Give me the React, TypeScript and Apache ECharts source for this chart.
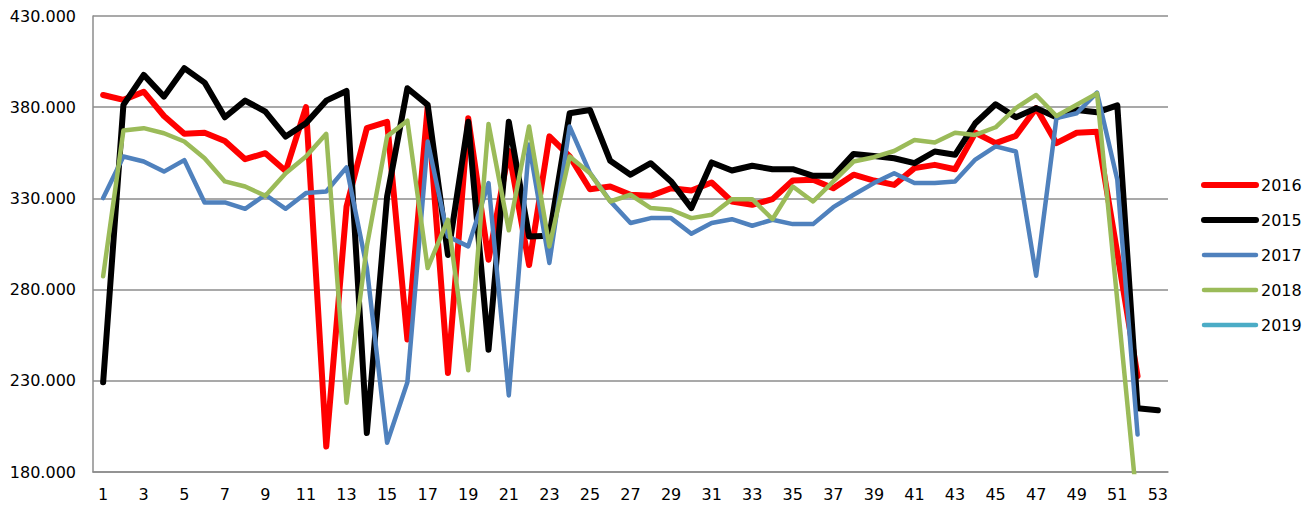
import React, { useEffect, useRef } from "react";
import * as echarts from "echarts";

const weeks: string[] = Array.from({ length: 53 }, (_, i) => String(i + 1));

const s2016: (number | null)[] = [
  386.7, 384, 388.5, 375.2, 365.4, 366, 361.5, 351.5, 354.8, 345,
  380, 194, 325.6, 368.5, 372, 252.6, 380.3, 234.3, 374, 296.4,
  356, 293.5, 364, 353, 335, 336.5, 332, 331.4, 335.6, 334.3,
  338.7, 328.3, 326.5, 329.6, 339.8, 340.2, 335.6, 343, 339.8, 337.4,
  346.6, 348.4, 346, 366, 360.3, 364.3, 379.5, 360.3, 366, 366.6,
  300, 232.5, null,
];

const s2015: (number | null)[] = [
  229.2, 381.3, 397.7, 385.8, 401.4, 393.5, 374.5, 383.6, 377.6, 363.9,
  371.2, 383.6, 388.9, 201.4, 331, 390.4, 381.3, 299, 372, 247,
  372, 309.1, 309.5, 376.7, 378.5, 350.6, 343, 349.3, 339.3, 324.7,
  349.7, 345.3, 347.9, 346, 346, 342.4, 342.4, 354.4, 353.3, 352,
  349.3, 355.7, 353.9, 371.2, 381.6, 374.5, 379.5, 374.5, 378.5, 377.2,
  381, 215, 213.8,
];

const s2017: (number | null)[] = [
  330.2, 353, 350.2, 344.7, 351, 327.8, 327.8, 324.3, 332, 324.3,
  332.9, 333.8, 347, 292, 196, 229.2, 361.2, 309.1, 303.7, 338.4,
  222, 359.5, 294.6, 369.4, 344, 328.5, 316.5, 319.2, 319.2, 310.6,
  316.5, 318.6, 315, 318.3, 315.9, 315.9, 325.2, 332, 338.4, 343.8,
  338.4, 338.4, 339.3, 351.3, 358.5, 355.7, 287.6, 374, 376.7, 388,
  340.2, 200.5, null,
];

const s2018: (number | null)[] = [
  287.3, 367.2, 368.5, 365.7, 361.2, 352, 339.3, 336.5, 331.4, 343.8,
  353, 365.4, 218, 303.7, 364, 372.6, 291.8, 318.3, 235.8, 370.8,
  312.5, 369.4, 303.7, 353, 343.8, 328.3, 332, 324.7, 323.8, 319.2,
  321, 329.6, 329.6, 318.6, 336.5, 328.3, 339.3, 350.2, 352.6, 356,
  362, 360.6, 366, 364.8, 369, 379.5, 386.7, 375.2, 381.3, 387.6,
  274, 160, null,
];

const s2019: (number | null)[] = [];

const seriesNames = ["2016", "2015", "2017", "2018", "2019"];
const seriesColors = ["#FF0000", "#000000", "#4F81BD", "#9BBB59", "#4BACC6"];
const seriesWidths = [6, 6, 4.5, 4.5, 4.5];
const seriesData = [s2016, s2015, s2017, s2018, s2019];

export default function App() {
  const ref = useRef<HTMLDivElement>(null);
  useEffect(() => {
    if (!ref.current) return;
    const chart = echarts.init(ref.current, null, { renderer: "svg" });
    const font = "DejaVu Sans";
    chart.setOption({
      animation: false,
      backgroundColor: "#ffffff",
      grid: { left: 93, right: 138, top: 16, bottom: 36, containLabel: false },
      legend: {
        orient: "vertical",
        left: 1196,
        top: 172,
        padding: 5,
        itemWidth: 52,
        itemHeight: 14,
        itemGap: 19,
        itemTextGap: 4,
        itemStyle: { opacity: 0 },
        textStyle: { fontFamily: font, fontSize: 16, lineHeight: 16, color: "#000" },
        data: seriesNames.map((n, i) => ({
          name: n,
          itemStyle: { opacity: 0 },
          lineStyle: { width: i < 2 ? 6 : 4.5, cap: "round", color: seriesColors[i] },
        })),
      },
      xAxis: {
        type: "category",
        data: weeks,
        boundaryGap: true,
        axisLine: { show: true, lineStyle: { color: "#8c8c8c", width: 1.5 } },
        axisTick: { show: false },
        axisLabel: {
          interval: 1,
          margin: 14,
          fontFamily: font,
          fontSize: 16,
          color: "#000",
        },
        splitLine: { show: false },
      },
      yAxis: {
        type: "value",
        min: 180,
        max: 430,
        interval: 50,
        axisLine: { show: true, lineStyle: { color: "#8c8c8c", width: 1.5 } },
        axisTick: { show: false },
        axisLabel: {
          margin: 17,
          fontFamily: font,
          fontSize: 16,
          color: "#000",
          formatter: (v: number) => v.toFixed(0) + ".000",
        },
        splitLine: { show: true, lineStyle: { color: "#8c8c8c", width: 1.5 } },
      },
      series: seriesNames.map((n, i) => ({
        name: n,
        type: "line",
        data: seriesData[i],
        showSymbol: false,
        symbol: "none",
        clip: true,
        connectNulls: false,
        color: seriesColors[i],
        lineStyle: {
          color: seriesColors[i],
          width: seriesWidths[i],
          cap: "round",
          join: "round",
        },
        emphasis: { disabled: true },
      })),
    });
    return () => chart.dispose();
  }, []);
  return (
    <div
      ref={ref}
      style={{ position: "fixed", left: 0, top: 0, width: 1306, height: 508 }}
    />
  );
}
